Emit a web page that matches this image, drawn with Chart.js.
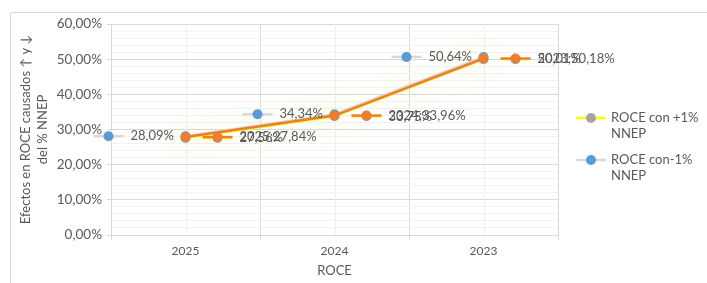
<!DOCTYPE html>
<html>
<head>
<meta charset="utf-8">
<script src="https://cdn.jsdelivr.net/npm/chart.js@4"></script>
<style>
  html, body { margin: 0; padding: 0; background: #fff; }
  #wrap { position: relative; width: 707px; height: 283px; overflow: hidden; }
  #frame { position: absolute; left: 10px; top: 12px; width: 720px; height: 300px; border: 1px solid #D9D9D9; }
  canvas { position: absolute; left: 0; top: 0; }
</style>
</head>
<body>
<div id="wrap">
  <div id="frame"></div>
  <canvas id="roceChart" width="707" height="283"></canvas>
</div>
<script>
// categories and series (percent values)
const categories = ['2025', '2024', '2023'];
const rocePlus = [27.56, 33.75, 50.01];   // ROCE con +1% NNEP
const roceMinus = [28.09, 34.34, 50.64];  // ROCE con-1% NNEP
const roceBase = [27.84, 33.96, 50.18];   // ROCE
const yTicks = { min: 0, max: 60, major: 10, minor: 2 };

const TEXT = '#595959';
const FONT = 'Lato, "Open Sans", sans-serif';

const fmt = v => v.toFixed(2).replace('.', ',') + '%';

// small line + dot used as legend key inside the data labels
function drawKey(ctx, cx, cy, lineColor, dotColor) {
  ctx.save();
  ctx.strokeStyle = lineColor;
  ctx.lineWidth = 2.5;
  ctx.beginPath();
  ctx.moveTo(cx - 15, cy);
  ctx.lineTo(cx + 15, cy);
  ctx.stroke();
  ctx.fillStyle = dotColor;
  ctx.beginPath();
  ctx.arc(cx, cy, 5, 0, Math.PI * 2);
  ctx.fill();
  ctx.restore();
}

// lighter vertical lines through the category centres
const minorGrid = {
  id: 'minorGrid',
  beforeDatasetsDraw(chart) {
    const { ctx, chartArea, scales: { x } } = chart;
    ctx.save();
    ctx.strokeStyle = '#EFEFEF';
    ctx.lineWidth = 1;
    categories.forEach((c, i) => {
      const px = Math.round(x.getPixelForValue(i)) + 0.5;
      ctx.beginPath();
      ctx.moveTo(px, chartArea.top);
      ctx.lineTo(px, chartArea.bottom);
      ctx.stroke();
    });
    ctx.restore();
  }
};

// soft glow behind the yellow line
const glow = {
  id: 'glow',
  beforeDatasetDraw(chart, args) {
    if (args.index !== 0) return;
    chart.ctx.save();
    chart.ctx.shadowColor = 'rgba(215, 232, 120, 0.75)';
    chart.ctx.shadowBlur = 30;
  },
  afterDatasetDraw(chart, args) {
    if (args.index !== 0) return;
    chart.ctx.restore();
  }
};

// data labels with legend keys
const dataLabels = {
  id: 'dataLabels',
  afterDatasetsDraw(chart) {
    const { ctx, scales: { x, y } } = chart;
    ctx.save();
    ctx.font = '13px ' + FONT;
    ctx.fillStyle = TEXT;
    ctx.textBaseline = 'middle';
    categories.forEach((cat, i) => {
      const px = x.getPixelForValue(i);

      let py = y.getPixelForValue(roceMinus[i]);
      drawKey(ctx, px - 77, py, '#D9D9D9', '#5B9BD5');
      ctx.fillText(fmt(roceMinus[i]), px - 55, py);

      py = y.getPixelForValue(rocePlus[i]);
      drawKey(ctx, px + 32, py, '#FFFF00', '#A5A5A5');
      ctx.fillText(fmt(rocePlus[i]), px + 54, py);

      py = y.getPixelForValue(roceBase[i]);
      drawKey(ctx, px + 32, py, '#ED7D31', '#ED7D31');
      ctx.fillText(cat + ';' + fmt(roceBase[i]), px + 54, py);
    });
    ctx.restore();
  }
};

// legend on the right, two-line labels
const sideLegend = {
  id: 'sideLegend',
  afterDraw(chart) {
    const ctx = chart.ctx;
    const items = [
      { lines: ['ROCE con +1%', 'NNEP'], line: '#FFFF00', dot: '#A5A5A5', y: 118 },
      { lines: ['ROCE con-1%', 'NNEP'], line: '#D9D9D9', dot: '#5B9BD5', y: 160 }
    ];
    ctx.save();
    ctx.font = '13px ' + FONT;
    ctx.fillStyle = TEXT;
    ctx.textBaseline = 'middle';
    items.forEach(it => {
      drawKey(ctx, 591, it.y, it.line, it.dot);
      it.lines.forEach((t, k) => ctx.fillText(t, 611, it.y + k * 16));
    });
    ctx.restore();
  }
};

const pointStyle = { pointRadius: 5, pointBorderWidth: 0, borderWidth: 2.5 };

new Chart(document.getElementById('roceChart'), {
  type: 'line',
  data: {
    labels: categories,
    datasets: [
      Object.assign({
        label: 'ROCE con +1% NNEP',
        data: rocePlus,
        borderColor: '#FFFF00',
        backgroundColor: '#A5A5A5',
        pointBackgroundColor: '#A5A5A5',
        order: 1
      }, pointStyle),
      Object.assign({
        label: 'ROCE con-1% NNEP',
        data: roceMinus,
        borderColor: '#D9D9D9',
        backgroundColor: '#5B9BD5',
        pointBackgroundColor: '#5B9BD5',
        order: 2
      }, pointStyle),
      Object.assign({
        label: 'ROCE',
        data: roceBase,
        borderColor: '#ED7D31',
        backgroundColor: '#ED7D31',
        pointBackgroundColor: '#ED7D31',
        order: 0
      }, pointStyle)
    ]
  },
  options: {
    responsive: false,
    animation: false,
    layout: { padding: { left: 0, top: 24, right: 149, bottom: 0 } },
    plugins: {
      legend: { display: false },
      tooltip: { enabled: false }
    },
    scales: {
      x: {
        offset: true,
        grid: { offset: true, color: '#D9D9D9', tickColor: '#D9D9D9', tickLength: 5 },
        border: { color: '#D9D9D9' },
        ticks: { color: TEXT, font: { family: FONT, size: 12 }, padding: 4 },
        title: {
          display: true, text: 'ROCE', color: TEXT,
          font: { family: FONT, size: 13 }, padding: { top: 0, bottom: 4 }
        },
        afterFit(s) { s.height = 48; }
      },
      y: {
        min: yTicks.min,
        max: yTicks.max,
        grid: {
          color: c => (c.tick && c.tick.value % yTicks.major === 0) ? '#D9D9D9' : '#F2F2F2',
          tickColor: c => (c.tick && c.tick.value % yTicks.major === 0) ? '#D9D9D9' : 'rgba(0,0,0,0)',
          tickLength: 4
        },
        border: { color: '#D9D9D9' },
        ticks: {
          stepSize: yTicks.minor,
          autoSkip: false,
          color: TEXT,
          font: { family: FONT, size: 13.5 },
          padding: 5,
          callback: v => (v % yTicks.major === 0) ? fmt(v) : ''
        },
        title: {
          display: true,
          text: ['Efectos en ROCE causados \u2191 y \u2193', 'del % NNEP'],
          color: TEXT,
          font: { family: FONT, size: 13, lineHeight: '17px' },
          padding: { top: 17, bottom: 0 }
        },
        afterFit(s) { s.width = 111; }
      }
    }
  },
  plugins: [minorGrid, glow, dataLabels, sideLegend]
});
</script>
</body>
</html>
